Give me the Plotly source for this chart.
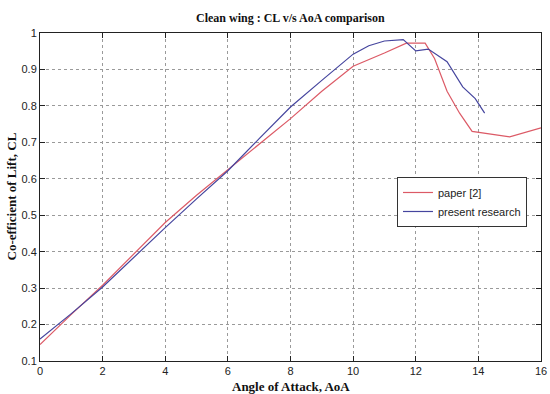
import plotly.graph_objects as go

paper_x = [0, 1, 2, 3, 4, 5, 6, 7, 8, 9, 10, 11, 11.7, 12.3, 12.6, 13, 13.4, 13.8, 15, 16]
paper_y = [0.145, 0.228, 0.308, 0.395, 0.48, 0.555, 0.625, 0.695, 0.765, 0.84, 0.909, 0.945,
           0.972, 0.972, 0.93, 0.84, 0.78, 0.73, 0.715, 0.74]

present_x = [0, 1, 2, 3, 4, 5, 6, 7, 8, 9, 10, 10.5, 11, 11.6, 12, 12.4, 13, 13.5, 13.9, 14.2]
present_y = [0.16, 0.23, 0.303, 0.385, 0.466, 0.545, 0.622, 0.71, 0.797, 0.87, 0.942, 0.965,
             0.978, 0.982, 0.951, 0.956, 0.921, 0.852, 0.82, 0.78]

series_names = ["paper [2]", "present research"]
title_text = "Clean wing : CL v/s AoA comparison"
x_title = "Angle of Attack, AoA"
y_title = "Co-efficient of Lift, CL"

tick_font = dict(family="Liberation Sans Narrow, Liberation Sans, Arial", size=11, color="#222")
serif = "Liberation Serif, Times New Roman, serif"

fig = go.Figure()
fig.add_trace(go.Scatter(x=paper_x, y=paper_y, mode="lines", name=series_names[0],
                         line=dict(color="#dc5a66", width=1.2)))
fig.add_trace(go.Scatter(x=present_x, y=present_y, mode="lines", name=series_names[1],
                         line=dict(color="#45459e", width=1.2)))

axis_common = dict(showline=True, linecolor="#222", linewidth=1, mirror="ticks",
                   ticks="inside", ticklen=5, tickcolor="#222",
                   showgrid=True, gridcolor="#9a9a9a", griddash="dot", gridwidth=1,
                   zeroline=False, tickfont=tick_font, automargin=False)

fig.update_xaxes(range=[0, 16], dtick=2, tick0=0, **axis_common)
fig.update_yaxes(range=[0.1, 1], dtick=0.1, tick0=0.1, **axis_common)

fig.update_layout(
    width=550, height=394,
    margin=dict(l=40, r=9, t=33, b=33),
    paper_bgcolor="white", plot_bgcolor="white",
    showlegend=True,
    legend=dict(x=0.972, y=0.561, xanchor="right", yanchor="top",
                bgcolor="white", bordercolor="#333", borderwidth=1,
                font=dict(family="Liberation Sans Narrow, Liberation Sans, Arial", size=11, color="#222"),
                tracegroupgap=0, itemwidth=30),
    annotations=[
        dict(text="<b>" + title_text + "</b>", x=0.5, y=1, xref="paper", yref="paper",
             xanchor="center", yanchor="bottom", yshift=6, showarrow=False,
             font=dict(family=serif, size=12, color="#111")),
        dict(text="<b>" + x_title + "</b>", x=0.5, y=0, xref="paper", yref="paper",
             xanchor="center", yanchor="top", yshift=-16, showarrow=False,
             font=dict(family=serif, size=13, color="#111")),
        dict(text="<b>" + y_title + "</b>", x=0, y=0.5, xref="paper", yref="paper",
             xanchor="right", yanchor="middle", xshift=-20, textangle=-90, showarrow=False,
             font=dict(family=serif, size=13, color="#111")),
    ],
)

fig.write_html("out.html")
